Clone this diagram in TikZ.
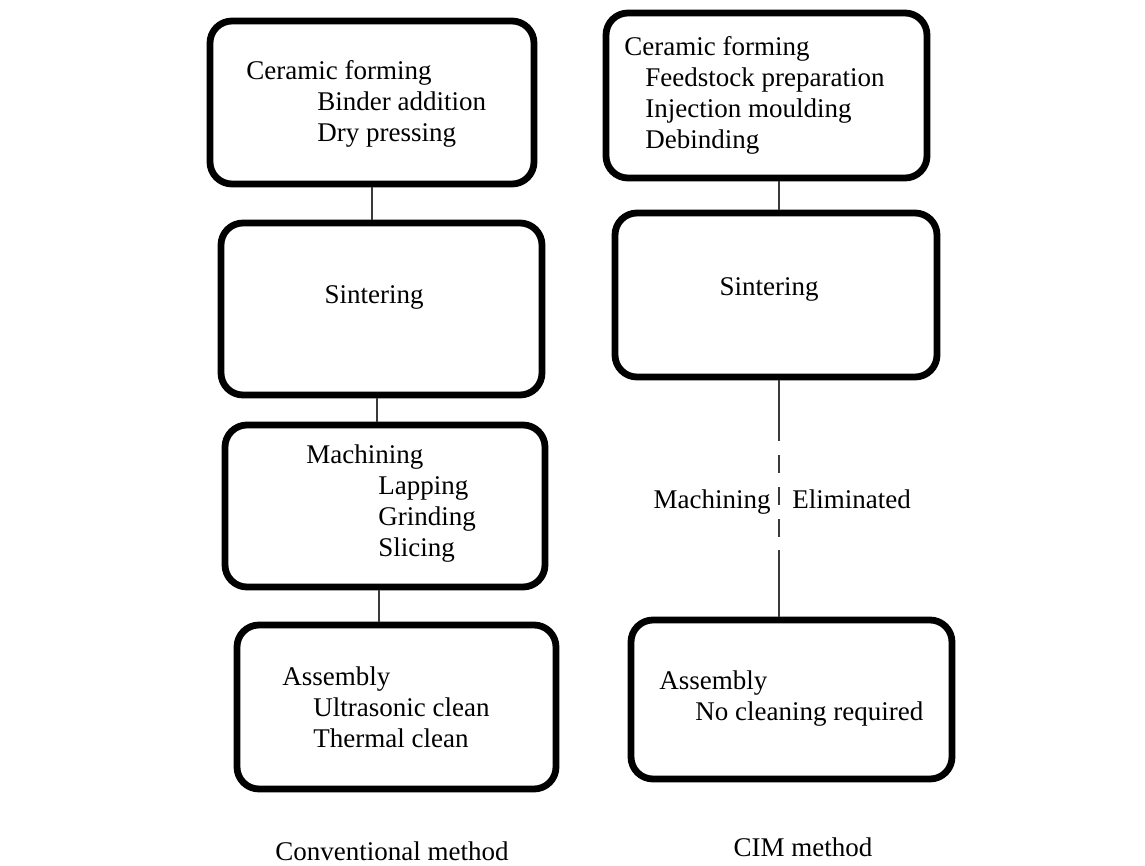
\documentclass[tikz,border=0pt]{standalone}
\usepackage{fontspec}
\setmainfont{Liberation Serif}
\usepackage{tikz}
\usetikzlibrary{positioning, calc}
\definecolor{boxline}{HTML}{000000}
\definecolor{linkgray}{HTML}{3A3A3A}

\begin{document}
\begin{tikzpicture}[x=0.5pt, y=-0.5pt,
    stepbox/.style={draw=boxline, line width=3.4pt, rounded corners=11pt, inner sep=0pt},
    steptext/.style={inner sep=0pt, align=left, font=\fontsize{13.5}{15.5}\selectfont},
    link/.style={draw=linkgray, line width=0.75pt}]
  % Page frame
  \useasboundingbox (0,0) rectangle (1145,866);

  % Conventional method column
  \node[stepbox, minimum width=162pt, minimum height=81.5pt] (conv1) at (372,102.5) {};
  \node[steptext, anchor=west] (conv1t) at (246,104)
    {Ceramic forming\\\hspace*{35.5pt}Binder addition\\\hspace*{35.5pt}Dry pressing};

  \node[stepbox, minimum width=160.5pt, minimum height=86pt] (conv2) at (381.5,309) {};
  \node[steptext] (conv2t) at (374,297) {Sintering};

  \node[stepbox, minimum width=160pt, minimum height=81pt] (conv3) at (385,506) {};
  \node[steptext, anchor=west] (conv3t) at (306,504)
    {Machining\\\hspace*{36pt}Lapping\\\hspace*{36pt}Grinding\\\hspace*{36pt}Slicing};

  \node[stepbox, minimum width=159.5pt, minimum height=82pt] (conv4) at (396.5,707) {};
  \node[steptext, anchor=west] (conv4t) at (282,707)
    {Assembly\\\hspace*{15.5pt}Ultrasonic clean\\\hspace*{15.5pt}Thermal clean};

  % CIM method column
  \node[stepbox, minimum width=160.5pt, minimum height=82.5pt] (cim1) at (766.5,95.5) {};
  \node[steptext, anchor=west] (cim1t) at (624,95)
    {Ceramic forming\\\hspace*{10.5pt}Feedstock preparation\\\hspace*{10.5pt}Injection moulding\\\hspace*{10.5pt}Debinding};

  \node[stepbox, minimum width=161pt, minimum height=82pt] (cim2) at (776,295) {};
  \node[steptext] (cim2t) at (769,289) {Sintering};

  \node[stepbox, minimum width=160.5pt, minimum height=79.5pt] (cim4) at (791.5,699.5) {};
  \node[steptext, anchor=west] (cim4t) at (659,699)
    {Assembly\\\hspace*{18pt}No cleaning required};

  % Connectors
  \draw[link] (conv1.south) -- (conv1.south |- conv2.north);
  \draw[link] ([xshift=-2.2pt]conv2.south) -- ([xshift=-2.2pt]conv2.south |- conv3.north);
  \draw[link] ([xshift=-3pt]conv3.south) -- ([xshift=-3pt]conv3.south |- conv4.north);
  \draw[link] ([xshift=6.25pt]cim1.south) -- ([xshift=6.25pt]cim1.south |- cim2.north);

  % Eliminated step
  \coordinate (gaptop) at (779,437);
  \coordinate (gapbot) at (779,550);
  \draw[link] (cim2.south -| gaptop) -- (gaptop);
  \draw[link, dash pattern=on 9pt off 7pt, dash phase=7pt] (gaptop) -- (gapbot);
  \draw[link] (gapbot) -- (gapbot |- cim4.north);
  \node[steptext, anchor=base east] (machlbl) at (771,508) {Machining};
  \node[steptext, anchor=base west] (elimlbl) at (792,508) {Eliminated};

  % Column captions
  \node[steptext, anchor=base] (convcap) at (392,860) {Conventional method};
  \node[steptext, anchor=base] (cimcap) at (803,856) {CIM method};
\end{tikzpicture}
\end{document}
